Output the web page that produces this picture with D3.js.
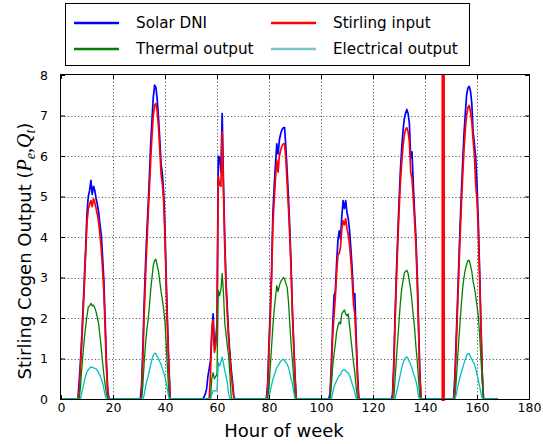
<!DOCTYPE html>
<html>
<head>
<meta charset="utf-8">
<script src="https://cdn.jsdelivr.net/npm/d3@7"></script>
<style>
  body { margin: 0; background: #fff; }
  svg { display: block; }
  text { font-family: "DejaVu Sans", sans-serif; fill: #000; }
</style>
</head>
<body>
<svg id="chart" width="543" height="444"></svg>
<script>
// Hour of week at which each daylight segment starts; samples every half hour.
const dayStart = [6.5, 30.5, 54.5, 79.0, 103.0, 127.0, 151.0];
const stepHours = 0.5;
const weekHours = 168;

// Solar DNI, one row per day
const solarDNI = [
  [0,0.45,0.95,1.55,2.25,3.0,3.75,4.6,5.0,5.15,5.4,5.05,5.25,5.15,4.95,4.8,4.6,4.3,4.05,3.5,2.9,1.9,0.85,0.2,0,0],
  [0,0.35,1.3,2.4,3.3,4.1,4.75,5.5,6.3,6.9,7.45,7.75,7.7,7.4,6.95,6.4,5.8,5.55,5.1,4.2,2.9,1.8,0.85,0,0,0],
  [0,0.05,0.12,0.25,0.55,0.75,0.95,1.6,2.1,1.3,1.45,1.85,6.0,5.95,5.6,7.05,5.3,3.9,2.85,2.2,1.55,1.1,0.7,0.4,0.05,0],
  [0,0.4,1.4,2.2,3.2,4.6,5.25,5.8,6.3,6.05,6.4,6.55,6.65,6.7,6.7,6.2,5.6,4.95,4.2,3.3,2.2,1.4,0.6,0,0,0],
  [0,0.15,0.9,1.8,2.55,2.65,3.35,3.9,4.15,3.95,4.5,4.9,4.7,4.9,4.6,4.45,4.15,3.7,3.2,2.55,2.6,1.6,0.7,0.05,0,0],
  [0,0.1,0.9,2.1,3.1,4.0,4.85,5.6,6.15,6.6,6.9,7.05,7.15,7.05,6.8,5.95,6.1,5.3,4.6,4.0,3.1,1.9,0.7,0,0,0],
  [0,0.6,1.5,2.4,3.35,4.3,5.1,5.85,6.55,7.05,7.5,7.68,7.72,7.6,7.3,6.6,6.3,5.95,5.3,4.4,3.2,1.9,0.7,0,0,0]
];

// Stirling engine heat input
const stirlingInput = [
  [0,0.2,0.8,1.4,2.1,2.85,3.6,4.35,4.7,4.8,4.9,4.75,4.95,4.85,4.7,4.55,4.35,4.05,3.7,3.2,2.6,1.7,0.75,0.1,0,0],
  [0,0.1,1.0,2.1,3.0,3.8,4.5,5.2,5.9,6.5,7.0,7.25,7.3,7.1,6.7,6.15,5.55,5.3,4.85,3.95,2.7,1.6,0.7,0,0,0],
  [0,0,0,0,0,0,0.6,1.7,1.95,1.15,1.3,1.75,5.5,5.3,5.25,6.6,5.1,3.7,2.7,2.05,1.45,1.0,0.6,0.3,0,0],
  [0,0.2,1.2,2.0,3.0,4.3,4.9,5.45,5.9,5.6,6.0,6.15,6.25,6.3,6.3,5.9,5.3,4.7,4.0,3.15,2.1,1.3,0.5,0,0,0],
  [0,0,0.7,1.55,2.05,2.5,3.1,3.55,3.6,3.75,4.2,4.4,4.3,4.45,4.2,4.05,3.8,3.4,2.95,2.35,2.1,1.4,0.55,0,0,0],
  [0,0,0.7,1.9,2.9,3.8,4.6,5.3,5.8,6.2,6.5,6.65,6.7,6.6,6.35,5.6,5.45,4.95,4.4,3.8,2.9,1.75,0.55,0,0,0],
  [0,0.3,1.25,2.2,3.15,4.0,4.8,5.5,6.15,6.65,7.0,7.2,7.25,7.1,6.85,6.4,6.0,5.3,4.9,4.15,3.0,1.8,0.6,0,0,0]
];

// Thermal output Q_t
const thermalOutput = [
  [0,0,0.3,0.75,1.15,1.5,1.8,2.05,2.27,2.3,2.36,2.3,2.32,2.25,2.15,2.0,1.85,1.55,1.25,0.9,0.6,0.35,0.12,0,0,0],
  [0,0,0.35,0.9,1.35,1.7,1.95,2.3,2.7,3.0,3.3,3.42,3.45,3.3,3.15,2.9,2.65,2.45,2.2,1.9,1.3,0.7,0.1,0,0,0],
  [0,0,0,0,0,0,0,0.5,0.65,0.5,0.55,0.62,2.68,2.55,2.7,3.1,2.6,1.87,1.6,1.3,1.05,0.55,0.02,0,0,0],
  [0,0,0.3,0.8,1.3,1.8,2.2,2.52,2.8,2.65,2.8,2.9,2.95,3.0,2.97,2.85,2.75,2.4,1.85,1.35,0.95,0.5,0.05,0,0,0],
  [0,0,0.35,0.8,1.1,1.35,1.65,1.8,1.9,1.85,2.1,2.15,2.2,2.1,2.05,2.1,1.8,1.5,1.2,0.9,0.65,0.3,0.02,0,0,0],
  [0,0,0,0.5,1.0,1.45,1.9,2.35,2.7,2.9,3.1,3.15,3.18,3.1,2.9,2.7,2.4,2.05,1.75,1.3,0.95,0.5,0.05,0,0,0],
  [0,0,0.45,0.95,1.45,1.9,2.35,2.75,3.0,3.2,3.32,3.42,3.42,3.3,3.15,2.9,2.75,2.55,2.3,2.05,1.6,1.0,0.45,0,0,0]
];

// Electrical output P_e
const electricalOutput = [
  [0,0,0,0.15,0.3,0.45,0.58,0.67,0.72,0.76,0.79,0.78,0.77,0.76,0.74,0.7,0.64,0.58,0.5,0.4,0.25,0.08,0,0,0,0],
  [0,0,0,0.1,0.3,0.45,0.55,0.7,0.85,0.98,1.08,1.13,1.12,1.05,1.0,0.92,0.85,0.75,0.65,0.55,0.38,0.2,0.02,0,0,0],
  [0,0,0,0,0,0,0,0.12,0.2,0.2,0.2,0.22,0.9,0.82,0.9,1.04,0.88,0.7,0.55,0.4,0.12,0,0,0,0,0],
  [0,0,0,0.2,0.35,0.48,0.58,0.68,0.78,0.82,0.88,0.93,0.96,0.98,0.95,0.9,0.86,0.78,0.65,0.5,0.38,0.18,0,0,0,0],
  [0,0,0,0.15,0.3,0.38,0.45,0.52,0.58,0.6,0.68,0.72,0.72,0.7,0.66,0.64,0.58,0.48,0.37,0.28,0.15,0.03,0,0,0,0],
  [0,0,0,0,0.15,0.3,0.45,0.6,0.75,0.88,0.97,1.02,1.04,1.0,0.92,0.85,0.75,0.65,0.55,0.45,0.3,0.05,0,0,0,0],
  [0,0,0.1,0.28,0.42,0.55,0.66,0.77,0.88,0.98,1.07,1.12,1.12,1.05,0.98,0.92,0.86,0.75,0.6,0.47,0.32,0.15,0.02,0,0,0]
];

const seriesNames = ["Solar DNI", "Stirling input", "Thermal output", "Electrical output"];
const seriesColors = ["#0000ff", "#ff0000", "#008000", "#00bfbf"];
const legendColors = ["#0000ff", "#ff0000", "#008000", "#7fc4c4"];
const seriesWidths = [1.7, 1.7, 1.3, 1.3];

const xTicks = [0, 20, 40, 60, 80, 100, 120, 140, 160, 180];
const yTicks = [0, 1, 2, 3, 4, 5, 6, 7, 8];
const markerHour = 147;

// Turn the per-day rows into one continuous week-long series
function weekSeries(rows) {
  const pts = [[0, 0]];
  rows.forEach((row, d) => {
    row.forEach((v, i) => pts.push([dayStart[d] + i * stepHours, v]));
  });
  pts.push([weekHours, 0]);
  return pts;
}
const allSeries = [solarDNI, stirlingInput, thermalOutput, electricalOutput].map(weekSeries);

const svg = d3.select("#chart");
const plot = { left: 61, right: 529, top: 75, bottom: 399 };

const x = d3.scaleLinear().domain([0, 180]).range([plot.left, plot.right]);
const y = d3.scaleLinear().domain([0, 8]).range([plot.bottom, plot.top]);

svg.append("defs").append("clipPath").attr("id", "plotClip")
  .append("rect")
  .attr("x", plot.left).attr("y", plot.top)
  .attr("width", plot.right - plot.left).attr("height", plot.bottom - plot.top);

// Dotted grid
const grid = svg.append("g").attr("stroke", "#333").attr("stroke-width", 0.8)
  .attr("stroke-dasharray", "1.2,2.2");
grid.selectAll("line.gx").data(xTicks.slice(1, -1)).join("line")
  .attr("x1", d => Math.round(x(d)) + 0.5).attr("x2", d => Math.round(x(d)) + 0.5)
  .attr("y1", plot.top).attr("y2", plot.bottom);
grid.selectAll("line.gy").data(yTicks.slice(1, -1)).join("line")
  .attr("y1", d => Math.round(y(d)) + 0.5).attr("y2", d => Math.round(y(d)) + 0.5)
  .attr("x1", plot.left).attr("x2", plot.right);

// Series lines
const line = d3.line().x(d => x(d[0])).y(d => y(d[1]));
const lines = svg.append("g").attr("clip-path", "url(#plotClip)");
allSeries.forEach((pts, k) => {
  lines.append("path").datum(pts)
    .attr("fill", "none")
    .attr("stroke", seriesColors[k])
    .attr("stroke-width", seriesWidths[k])
    .attr("stroke-linejoin", "round")
    .attr("d", line);
});

// Marker at the current hour
svg.append("line")
  .attr("x1", x(markerHour)).attr("x2", x(markerHour))
  .attr("y1", plot.top).attr("y2", plot.bottom + 2)
  .attr("stroke", "#ff0000").attr("stroke-width", 3.5);

// Axes with inward ticks on all four sides
const fmt = d3.format("d");
const xAxis = svg.append("g").attr("transform", `translate(0,${plot.bottom})`)
  .call(d3.axisBottom(x).tickValues(xTicks).tickFormat(fmt).tickSizeInner(-4).tickSizeOuter(0).tickPadding(4));
const yAxis = svg.append("g").attr("transform", `translate(${plot.left},0)`)
  .call(d3.axisLeft(y).tickValues(yTicks).tickFormat(fmt).tickSizeInner(-4).tickSizeOuter(0).tickPadding(13));
const xTop = svg.append("g").attr("transform", `translate(0,${plot.top})`)
  .call(d3.axisTop(x).tickValues(xTicks).tickFormat("").tickSizeInner(-4).tickSizeOuter(0));
const yRight = svg.append("g").attr("transform", `translate(${plot.right},0)`)
  .call(d3.axisRight(y).tickValues(yTicks).tickFormat("").tickSizeInner(-4).tickSizeOuter(0));
[xAxis, yAxis, xTop, yRight].forEach(g => {
  g.select(".domain").remove();
  g.selectAll(".tick line").attr("stroke", "#000");
  g.selectAll(".tick text").attr("font-family", "DejaVu Sans").attr("font-size", 12.5).attr("fill", "#000");
});

// Axes frame
svg.append("rect")
  .attr("x", plot.left - 0.5).attr("y", plot.top - 0.5)
  .attr("width", plot.right - plot.left + 1).attr("height", plot.bottom - plot.top + 1)
  .attr("fill", "none").attr("stroke", "#000").attr("stroke-width", 1);

// Axis titles
svg.append("text")
  .attr("x", 284).attr("y", 437)
  .attr("text-anchor", "middle").attr("font-size", 18)
  .text("Hour of week");

const yTitle = svg.append("text")
  .attr("transform", "translate(31,251) rotate(-90)")
  .attr("text-anchor", "middle").attr("font-size", 18);
yTitle.append("tspan").text("Stirling Cogen Output (");
const mathFont = "Liberation Serif";
yTitle.append("tspan").attr("font-family", mathFont).attr("font-style", "italic").attr("font-size", 20).text("P");
yTitle.append("tspan").attr("font-family", mathFont).attr("font-style", "italic").attr("font-size", 14).attr("dy", 4).text("e");
yTitle.append("tspan").attr("font-family", mathFont).attr("font-size", 20).attr("dy", -4).text(",");
yTitle.append("tspan").attr("font-family", mathFont).attr("font-style", "italic").attr("font-size", 20).text("Q");
yTitle.append("tspan").attr("font-family", mathFont).attr("font-style", "italic").attr("font-size", 14).attr("dy", 4).text("t");
yTitle.append("tspan").attr("dy", -4).text(")");

// Legend
const legend = svg.append("g");
legend.append("rect")
  .attr("x", 65.5).attr("y", 3.5).attr("width", 404).attr("height", 62)
  .attr("fill", "#fff").attr("stroke", "#000").attr("stroke-width", 1);
const legendPos = [
  { lx: 74, ty: 23 }, { lx: 271, ty: 23 },
  { lx: 74, ty: 49 }, { lx: 271, ty: 49 }
];
seriesNames.forEach((name, k) => {
  const p = legendPos[k];
  legend.append("line")
    .attr("x1", p.lx).attr("x2", p.lx + 45)
    .attr("y1", p.ty).attr("y2", p.ty)
    .attr("stroke", legendColors[k]).attr("stroke-width", 2.6);
  legend.append("text")
    .attr("x", p.lx + 62).attr("y", p.ty).attr("dy", "0.36em")
    .attr("font-size", 15.2).text(name);
});
</script>
</body>
</html>
